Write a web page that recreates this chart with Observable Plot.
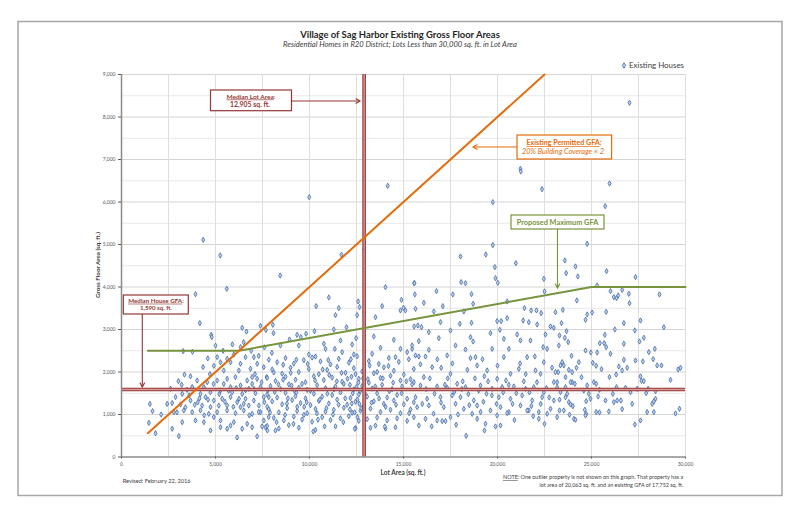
<!DOCTYPE html>
<html><head><meta charset="utf-8">
<script src="https://cdn.jsdelivr.net/npm/d3@7"></script>
<script src="https://cdn.jsdelivr.net/npm/@observablehq/plot@0.6"></script>
<style>
html,body{margin:0;padding:0;background:#fff;}
#chart{position:relative;width:800px;height:519px;}
svg{overflow:visible;}
</style></head><body><div id="chart"></div>
<script>
// Existing houses: [lot area sq.ft., gross floor area sq.ft.]
const houses = [
[4345,5111],[5250,4741],[5600,3958],[3936,3831],[4165,3149],[4770,2875],[4800,2820],
[6420,3040],[7390,3087],[7680,2990],[6650,2950],[6330,2585],[3777,2475],[3280,2490],
[4590,2320],[5090,2350],[4340,2115],[4910,2145],[5265,2230],[5620,2310],[5975,2410],[5800,2230],[6595,2350],[7040,2350],[7220,2195],[7570,2115],[6860,2075],[6240,2035],[5440,2035],
[3350,1940],[3670,1900],[3030,1785],[4025,1800],[4560,1760],[5090,1800],[5620,1840],[6060,1880],[6685,1800],[7215,1840],[7720,1880],
[2610,1605],[3490,1580],[4200,1485],[4730,1525],[5265,1565],[5800,1645],[6330,1685],[6950,1720],[7390,1645],
[1510,1250],[1650,1080],[2110,1000],[2695,1270],[3140,1235],[3670,1330],[4060,1290],[4470,1410],[4910,1330],[5355,1370],[5800,1410],[6150,1290],[6595,1370],[7040,1330],[7570,1410],
[2785,1055],[3315,1095],[3760,1055],[4200,1095],[4645,1015],[5090,1055],[5620,1095],[6060,1030],[6505,1095],[6950,1015],[7390,1055],[7830,940],
[1455,805],[1810,560],[2695,665],[3050,490],[3230,820],[3935,860],[4380,820],[4735,625],[5265,860],[5620,665],[6150,460],[5975,820],[6685,780],[7215,485],[7660,700],[4910,940],[7570,860],
[5440,1720],[5885,1525],[6420,1485],[6770,1605],[7125,1500],[7780,1565],[7305,1210],[7750,1180],[6770,1210],[6330,1175],[5620,1210],[5175,1210],[4735,1175],[4290,1210],[7480,720],[6950,700],[6420,665],[5800,740],[5265,700],[7760,625],[7835,1410],[6330,2195],[6950,1880],[4380,1645],[3760,1645],[3230,1485],[2875,1410],[2430,1250],
[11700,4757],[12907,4883],[8440,4270],[14040,3997],[15567,4090],[11028,3754],[10354,3550],[11560,3503],[12588,3660],[12660,3526],[12907,3408],[13864,3550],[14893,3699],[14840,3448],[15100,3448],[15000,3510],[11382,3338],[12535,3338],[13510,3290],[8050,3110],[8085,2914],[8935,2765],[9340,2875],[9540,2820],[9820,2900],[10265,2960],[11293,3000],[11967,3055],[12480,2797],[12270,2648],[13420,2836],[14485,2758],[15460,2545],[8457,2624],[9432,2624],[10762,2664],[11650,2742],[10850,2545],[11345,2545],[9964,2412],[10318,2365],[11737,2467],[12357,2412],[13332,2428],[13776,2570],[14573,2350],[14840,2545],[15195,2467],
[7836,2290],[8280,2230],[8723,2330],[9166,2200],[9698,2280],[10141,2340],[10584,2250],[11116,2180],[11560,2310],[12092,2220],[12535,2370],[13155,2260],[13687,2190],[14219,2330],[14751,2240],[15283,2300],
[8014,2060],[8546,1960],[8989,2100],[9432,2000],[9964,2070],[10496,1950],[10939,2050],[11471,2120],[11914,1980],[12357,2090],[12801,2010],[13421,1970],[13953,2110],[14485,2030],[15017,1940],[15549,2070],
[7748,1860],[8191,1790],[8723,1890],[9255,1820],[9787,1760],[10230,1900],[10762,1810],[11205,1870],[11737,1770],[12233,1890],[12623,1840],[13155,1750],[13776,1860],[14308,1910],[14840,1800],[15372,1830],
[7925,1670],[8457,1600],[8900,1710],[9432,1630],[9875,1580],[10407,1690],[10850,1620],[11382,1660],[11826,1720],[12357,1590],[12801,1670],[13332,1610],[13864,1700],[14396,1600],[14928,1660],[15460,1710],
[7748,1470],[8280,1400],[8723,1510],[9255,1430],[9787,1380],[10230,1490],[10673,1420],[11205,1460],[11648,1520],[12180,1390],[12623,1470],[13066,1420],[13598,1500],[14131,1400],[14662,1460],[15194,1370],
[8014,1310],[8546,1240],[9077,1340],[9521,1270],[10053,1220],[10496,1320],[11028,1260],[11471,1350],[12003,1230],[12446,1300],[12889,1200],[13421,1310],[13953,1250],[14485,1330],[15017,1240],[15549,1290],
[7836,1120],[8368,1050],[8812,1150],[9343,1080],[9875,1030],[10318,1130],[10850,1070],[11293,1110],[11826,1160],[12269,1040],[12712,1090],[13244,1140],[13776,1060],[14308,1110],[14840,1030],[15372,1120],
[8102,920],[8634,860],[9166,950],[9609,880],[10141,830],[10673,940],[11116,870],[11648,910],[12092,960],[12623,850],[13066,890],[13598,930],[14131,860],[14662,910],[15194,850],
[7748,730],[8368,670],[8900,750],[9432,690],[10318,640],[11382,720],[12446,680],[13510,740],[14042,670],[14573,700],
[8190,624],[10200,600],[12410,663],[13244,687],[14006,718],
[12450,1950],[12600,1750],[12700,1550],[12550,1350],[12750,1150],[12400,1050],[12850,1850],[12300,1500],[12650,1250],[12500,1650],[9200,1560],[9050,1680],[9300,1520],
[7100,1950],[7450,1760],[8150,1530],[8600,1820],[8850,1380],[9000,1980],[9600,1720],[9720,1180],[10050,1560],[10300,1800],[10550,1350],[10700,2060],[10950,1490],[11050,1930],[11300,1590],[11550,1230],[11700,1980],[11900,1380],[12150,1700],[12250,1260],[12020,1840],[11450,1780],[10900,1150],[10400,1030],[9850,1290],[9350,1180],[8800,1260],[8350,1710],[8100,1990],[7600,1290],[7300,1060],[7050,1600],[6600,1570],[6250,1370],[5950,1180],[5700,1560],[5500,1300],[5200,1480],[4900,1720],[4600,1350],[4400,980],[4150,1380],[3900,1230],[3600,1450],[3400,1170],[3200,1700],[2950,1050],[6800,980],[6500,1250],[6100,1620],[7900,1050],[8250,820],[8700,990],[9150,780],[9700,990],[10450,880],[10800,720],[11250,1000],[11800,820],[12150,1120],[12550,940],[12950,1500],[13100,1830],[13300,1280],[13500,1660],[13700,1380],[13900,1850],[14050,1180],[14250,1550],[14450,1750],[14600,1230],[14900,1500],[15150,1780],[15300,1030],[13600,2000],[13200,2150],[14200,2140],[12200,2300],[11000,2280],[9900,2190],[9300,2290],[8600,2170],[8000,2450],[7600,2580],[7300,2380],[6900,2500],[6500,2700],[5900,2650],[5400,2500],[5000,2620],[4700,1950],
[19751,4985],[18031,4718],[19379,4765],[20975,4561],[19858,4467],[18067,4114],[18297,4090],[19893,4208],[20017,4099],[22464,4193],[15585,4090],[15602,3824],[16755,3903],[17624,3824],[18617,3832],[16081,3628],[17092,3550],[18705,3605],[22500,3895],[15638,3487],[16613,3424],[18209,3424],[20514,3659],[21436,3503],[21790,3448],[22074,3448],[22322,3385],[23085,3408],
[15567,3071],[15762,3095],[15957,3055],[16347,2938],[16968,3173],[17996,3134],[18617,3157],[19982,3197],[20194,3197],[20124,2993],[20514,3267],[21365,3212],[21666,3173],[22109,3118],[22553,2883],[22819,3071],[22996,3040],[17500,2977],[19627,2914],[20337,2781],[21046,2883],[18563,2820],[18705,2718],[16879,2797],[15815,2726],[15460,2624],[17766,2624],[18297,2530],[19716,2545],[20603,2545],[21223,2742],[21755,2742],[22429,2585],[22641,2545],[23262,2624],[16347,2522],[17323,2389],[18563,2326],[18829,2350],[20337,2350],[21578,2350],[21986,2365],[22464,2232],[15638,2389],[15815,2365],[16170,2365],
[17500,1957],[16524,2114],[17004,2099],[18918,2154],[19450,2036],[19982,1840],[20692,1957],[21135,2075],[22021,2036],[22287,1957],[22996,1761],[16081,1879],[15550,1761],
[15904,1683],[16790,1660],[17323,1628],[17854,1722],[18297,1644],[19095,1683],[19716,1605],[20248,1644],[20868,1660],[21493,1605],[21932,1644],[22464,1526],[23173,1644],
[15638,1408],[16258,1369],[16968,1408],[17589,1448],[18031,1408],[18740,1330],[19415,1487],[20071,1408],[20692,1369],[21313,1448],[21845,1330],[22376,1408],[22996,1330],
[15727,1173],[16347,1212],[17145,1173],[17766,1252],[18209,1134],[18918,1212],[19627,1095],[20159,1173],[20603,1056],[21223,1212],[21666,1095],[22198,1056],[22819,1134],
[15550,938],[16170,899],[16790,860],[17500,938],[18652,1016],[19982,977],[20514,1032],[21578,1095],[22641,1016],[23173,938],
[15815,742],[17057,844],[17234,844],[18918,899],[19361,781],[19893,718],[20159,742],[22198,899],[18333,499],[19308,624],
[15900,2180],[16400,1850],[16650,1490],[16600,1020],[17000,1280],[17350,1850],[17700,1530],[17900,1000],[18150,1780],[18450,1480],[18500,1220],[18800,1850],[19000,1560],[19250,1300],[19500,1780],[19700,1450],[19950,1250],[20300,1520],[20450,1800],[20800,1250],[21000,1500],[21400,1780],[21700,1520],[21800,1200],[22100,1760],[22300,1250],[22600,1620],[22750,1400],[22900,2100],[20000,2150],[19200,2300],[18400,2050],[17600,2200],[16800,2300],[21200,2200],[16200,1600],[16500,720],[17800,760],[19100,1060],[20900,870],[21900,960],[22500,780],[23300,1350],[16000,1250],[17200,1700],[18100,1600],[19300,1900],[20600,1700],[21500,1950],
[24770,5016],[23581,4624],[24149,4483],[23652,4326],[24273,4248],[25798,4373],[27340,4232],[25301,4036],[26010,3903],[26188,3761],[26330,3738],[26418,3801],[26631,3934],[26986,3840],[27021,3620],[28617,3824],[24220,3683],[23475,3463],[24770,3354],[24681,3228],[25035,3400],[25780,3416],[27606,3212],[26720,3150],[26241,3001],[27305,2977],[28847,3055],[23404,3150],[23670,2962],[23298,2859],[23581,2805],[23758,2703],[25709,2875],[25443,2679],[25674,2679],[25780,2585],[26720,2664],[27553,2718],[27783,2805],[24681,2506],[24964,2459],[25301,2459],[23936,2381],[28049,2467],[28368,2545],[26010,2428],
[23440,2232],[23351,2154],[23528,2154],[23227,1997],[24326,2232],[23794,2052],[24202,2099],[25071,2216],[25248,2146],[25532,2067],[26454,2130],[26897,2099],[26631,2036],[26720,2287],[27340,2271],[27730,2248],[28280,2302],[28492,2154],[28723,2154],[29202,1816],[29610,2060],[29734,2099],
[23085,1997],[23972,1997],[23617,1879],[24468,1879],[23972,1761],[25957,1880],[26312,1942],[27606,1895],[27660,1793],[27783,1785],[23174,1761],[23617,1644],[23883,1761],[24113,1722],[24770,1683],[25124,1761],[25248,1722],[25425,1581],[26330,1644],[26808,1628],[27429,1605],[28014,1605],[28404,1550],
[23351,1526],[23706,1487],[23617,1408],[23794,1291],[23883,1236],[24007,1197],[24592,1565],[24858,1487],[24947,1369],[24716,1314],[25354,1424],[25744,1330],[26188,1291],[26365,1330],[26135,1487],[26560,1330],[27074,1526],[27163,1252],[27907,1503],[28227,1252],[28315,1306],[28404,1369],
[23298,1095],[23528,1095],[23830,993],[24060,899],[24149,875],[24645,1111],[24716,1016],[24681,977],[25248,1056],[25425,1048],[25922,1071],[26631,1126],[27960,1056],[28315,1056],[27305,765],[27606,860],[29468,1024],[29680,1134],
[9985,6113],[14160,6381],[19750,5996],[21220,6780],[21240,6718],[22370,6302],[25960,6436],[25730,5902],[27020,8334]
];
const xTicks = [0, 5000, 10000, 15000, 20000, 25000, 30000];
const yTicks = [0, 1000, 2000, 3000, 4000, 5000, 6000, 7000, 8000, 9000];
const xGrid = [2500, 5000, 7500, 10000, 12500, 15000, 17500, 20000, 22500, 25000, 27500, 30000];
const yGridMajor = [1000, 2000, 3000, 4000, 5000, 6000, 7000, 8000, 9000];
const yGridMinor = [500, 1500, 2500, 3500, 4500, 5500, 6500, 7500, 8500];
// Existing permitted GFA: 20% building coverage x 2 (= 0.4 x lot area)
const permittedGFA = [[1400, 560], [22500, 9000]];
// Proposed maximum GFA
const proposedGFA = [[1400, 2500], [6250, 2500], [25000, 4000], [30000, 4000]];
const medianLotArea = 12905;
const medianHouseGFA = 1590;

const RED = "#953735", ORANGE = "#e46c0a", GREEN = "#77933c";
const FONT = "Lato, 'Open Sans', sans-serif";

const plot = Plot.plot({
  width: 800, height: 519,
  marginLeft: 121, marginRight: 115, marginTop: 74, marginBottom: 62.5,
  x: {domain: [0, 30000]},
  y: {domain: [0, 9000]},
  style: {fontFamily: FONT, fontSize: "5px", background: "#fff", overflow: "visible"},
  marks: [
    Plot.ruleY(yGridMinor, {stroke: "#e8e8e8", strokeWidth: 1}),
    Plot.ruleY(yGridMajor, {stroke: "#d4d4d4", strokeWidth: 1}),
    Plot.ruleX(xGrid, {stroke: "#dedede", strokeWidth: 1}),
    Plot.dot(houses, {x: d => d[0], y: d => d[1], symbol: "diamond", r: 1.6, stroke: "#416aaa", fill: "#bcd0ea", strokeWidth: 0.8}),
    Plot.ruleY([medianHouseGFA], {stroke: RED, strokeWidth: 3.6}),
    Plot.ruleY([medianHouseGFA], {stroke: "#d99a98", strokeWidth: 1.4}),
    Plot.ruleX([medianLotArea], {y1: 0, y2: 9000, stroke: RED, strokeWidth: 3.6}),
    Plot.ruleX([medianLotArea], {y1: 0, y2: 9000, stroke: "#d99a98", strokeWidth: 1.4}),
    Plot.line(proposedGFA, {x: d => d[0], y: d => d[1], stroke: GREEN, strokeWidth: 2}),
    Plot.line(permittedGFA, {x: d => d[0], y: d => d[1], stroke: ORANGE, strokeWidth: 2}),
    Plot.ruleX([0], {stroke: "#8c8c8c", strokeWidth: 1.5}),
    Plot.ruleY([0], {stroke: "#8c8c8c", strokeWidth: 1.5}),
    Plot.axisY(yTicks, {tickFormat: d3.format(","), tickSize: 3, tickPadding: 3, color: "#595959", label: null, fontSize: 5}),
    Plot.axisX(xTicks, {tickFormat: d3.format(","), tickSize: 2, tickPadding: 3, color: "#595959", label: null, fontSize: 5})
  ]
});
document.getElementById("chart").appendChild(plot);

const svg = d3.select(plot);
const g = svg.append("g").attr("font-family", FONT);

// outer frame
g.append("rect").attr("x", 18).attr("y", 21.5).attr("width", 764).attr("height", 474)
  .attr("fill", "none").attr("stroke", "#a6a6a6").attr("stroke-width", 1.5);

function fit(t, w) {
  const cur = +t.attr("font-size");
  const len = t.node().getComputedTextLength();
  if (len > 0) t.attr("font-size", (cur * w / len).toFixed(2));
  return t;
}
function txt(x, y, s, w, o = {}) {
  const t = g.append("text").attr("x", x).attr("y", y).attr("font-size", 10)
    .attr("text-anchor", o.anchor || "start").attr("fill", o.fill || "#404040")
    .attr("font-weight", o.bold ? "bold" : null).attr("font-style", o.italic ? "italic" : null);
  if (Array.isArray(s)) {
    s.forEach(p => t.append("tspan").text(p.t).attr("text-decoration", p.u ? "underline" : null));
  } else t.text(s);
  return fit(t, w);
}

// title, subtitle
txt(400, 37.5, "Village of Sag Harbor Existing Gross Floor Areas", 200, {anchor: "middle", bold: true, fill: "#262626"});
txt(400, 46.8, "Residential Homes in R20 District; Lots Less than 30,000 sq. ft. in Lot Area", 234, {anchor: "middle", italic: true, fill: "#404040"});

// legend
g.append("path").attr("d", d3.symbol(d3.symbolDiamond, 9)()).attr("transform", "translate(624,65.5)")
  .attr("fill", "#bcd0ea").attr("stroke", "#416aaa").attr("stroke-width", 0.8);
txt(629, 68, "Existing Houses", 55, {fill: "#404040"});

// axis titles
txt(403, 475, "Lot Area (sq. ft.)", 45, {anchor: "middle", bold: true, fill: "#404040"});
{
  const t = txt(0, 0, "Gross Floor Area (sq. ft.)", 66, {anchor: "middle", bold: true, fill: "#404040"});
  t.attr("transform", "translate(100,265) rotate(-90)");
}

// footer
txt(122.7, 483.3, "Revised: February 22, 2016", 68, {fill: "#404040"});
txt(683.3, 479, [{t: "NOTE", u: true}, {t: ": One outlier property is not shown on this graph. That property has a"}], 180.6, {anchor: "end", fill: "#404040"});
txt(683.3, 487.3, "lot area of 20,063 sq. ft. and an existing GFA of 17,752 sq. ft.", 144, {anchor: "end", fill: "#404040"});

// annotation helpers
function box(x0, y0, x1, y1, color) {
  g.append("rect").attr("x", x0).attr("y", y0).attr("width", x1 - x0).attr("height", y1 - y0)
    .attr("fill", "#fff").attr("stroke", color).attr("stroke-width", 1.2);
}
function arrow(x0, y0, x1, y1, color) {
  g.append("line").attr("x1", x0).attr("y1", y0).attr("x2", x1).attr("y2", y1)
    .attr("stroke", color).attr("stroke-width", 1.1);
  const a = Math.atan2(y1 - y0, x1 - x0), L = 5, s = 0.5;
  const p1 = [x1 - L * Math.cos(a - s), y1 - L * Math.sin(a - s)];
  const p2 = [x1 - L * Math.cos(a + s), y1 - L * Math.sin(a + s)];
  g.append("path").attr("d", `M${p1}L${x1},${y1}L${p2}`).attr("fill", "none")
    .attr("stroke", color).attr("stroke-width", 1.1);
}

// Median lot area
arrow(291.5, 101, 360, 101, RED);
box(210.5, 90, 291.5, 110.7, RED);
txt(251, 98.5, [{t: "Median Lot Area", u: true}, {t: ":"}], 49, {anchor: "middle", bold: true, fill: RED});
txt(250, 106.7, "12,905 sq. ft.", 40, {anchor: "middle", bold: true, fill: RED});

// Existing permitted GFA
arrow(517, 147, 473, 147, ORANGE);
box(517, 135, 611.6, 159, ORANGE);
txt(564, 145, [{t: "Existing Permitted GFA", u: true}, {t: ":"}], 75, {anchor: "middle", bold: true, fill: ORANGE});
txt(563, 154.3, "20% Building Coverage × 2", 82, {anchor: "middle", italic: true, fill: ORANGE});

// Proposed maximum GFA
arrow(557.5, 229, 557.5, 288, GREEN);
box(511, 215, 604, 229, GREEN);
txt(557.5, 224.5, "Proposed Maximum GFA", 81.6, {anchor: "middle", bold: true, fill: GREEN});

// Median house GFA
arrow(142.3, 314, 142.3, 387, RED);
box(123.3, 295, 188.3, 314, RED);
txt(156, 302.7, [{t: "Median House GFA", u: true}, {t: ":"}], 55.7, {anchor: "middle", bold: true, fill: RED});
txt(156, 309.6, "1,590 sq. ft.", 32, {anchor: "middle", bold: true, fill: RED});
</script>
</body></html>
